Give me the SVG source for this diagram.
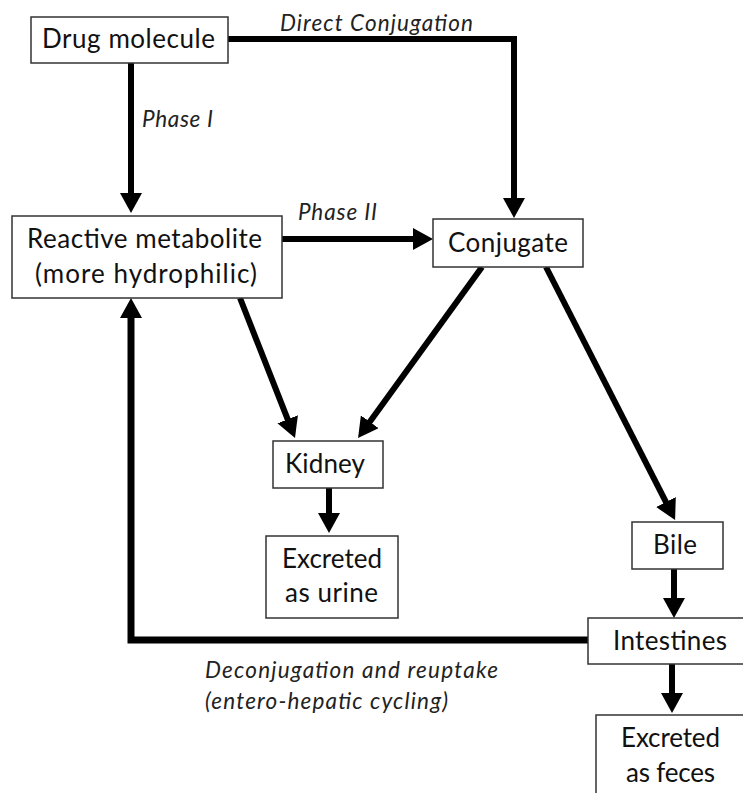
<svg xmlns="http://www.w3.org/2000/svg" width="743" height="793" viewBox="0 0 743 793">
<defs>
<marker id="ah" markerUnits="userSpaceOnUse" markerWidth="21" markerHeight="22" refX="2" refY="11" orient="auto">
<path d="M0,0 L20,11 L0,22 Z" fill="#000"/>
</marker>
<style>
.box{fill:#fff;stroke:#333;stroke-width:1.5}
.t{font-family:Lato,"Open Sans","Liberation Sans",sans-serif;font-size:26px;fill:#111;text-anchor:middle}
.lb{font-family:Lato,"Open Sans","Liberation Sans",sans-serif;font-size:22.5px;font-style:italic;fill:#222}
.c{fill:none;stroke:#000;stroke-width:6;stroke-linejoin:miter}
</style>
</defs>
<rect width="743" height="793" fill="#fff"/>
<g id="connectors">
<path class="c" d="M131,63 V195" marker-end="url(#ah)"/>
<path class="c" d="M228,39 H514 V200" marker-end="url(#ah)"/>
<path class="c" d="M282,239 H415" marker-end="url(#ah)"/>
<path class="c" d="M240,298 L288.4,421.2" marker-end="url(#ah)"/>
<path class="c" d="M482,267 L368.6,423.4" marker-end="url(#ah)"/>
<path class="c" d="M546,267 L666.9,503.9" marker-end="url(#ah)"/>
<path class="c" d="M329,488 V515" marker-end="url(#ah)"/>
<path class="c" d="M674,569 V600" marker-end="url(#ah)"/>
<path class="c" d="M672,664 V695" marker-end="url(#ah)"/>
<path class="c" style="stroke-width:7" d="M588,640 H131 V316" marker-end="url(#ah)"/>
<text class="lb" x="280" y="31" textLength="193">Direct Conjugation</text>
<text class="lb" x="142" y="127" textLength="71">Phase I</text>
<text class="lb" x="298" y="220" textLength="79">Phase II</text>
<text class="lb" x="205" y="678" textLength="293">Deconjugation and reuptake</text>
<text class="lb" x="205" y="709" textLength="243">(entero-hepatic cycling)</text>
</g>
<g id="drug">
<rect class="box" x="31" y="17" width="197" height="46"/>
<text class="t" x="128.5" y="48" textLength="173">Drug molecule</text>
</g>
<g id="reactive">
<rect class="box" x="12" y="216" width="270" height="82"/>
<text class="t" x="144.5" y="248" textLength="235">Reactive metabolite</text>
<text class="t" x="146" y="283" textLength="222">(more hydrophilic)</text>
</g>
<g id="conjugate">
<rect class="box" x="433" y="219" width="150" height="48"/>
<text class="t" x="508" y="252" textLength="120">Conjugate</text>
</g>
<g id="kidney">
<rect class="box" x="273" y="441" width="110" height="47"/>
<text class="t" x="325" y="473" textLength="80">Kidney</text>
</g>
<g id="urine">
<rect class="box" x="266" y="536" width="132" height="82"/>
<text class="t" x="332" y="568" textLength="100">Excreted</text>
<text class="t" x="331.5" y="602" textLength="93">as urine</text>
</g>
<g id="bile">
<rect class="box" x="632" y="522" width="91" height="47"/>
<text class="t" x="675" y="554" textLength="44">Bile</text>
</g>
<g id="intestines">
<rect class="box" x="588" y="618" width="170" height="46"/>
<text class="t" x="670" y="650" textLength="114">Intestines</text>
</g>
<g id="feces">
<rect class="box" x="596" y="715" width="150" height="90"/>
<text class="t" x="670.5" y="747" textLength="99">Excreted</text>
<text class="t" x="670.5" y="782" textLength="89">as feces</text>
</g>
</svg>
